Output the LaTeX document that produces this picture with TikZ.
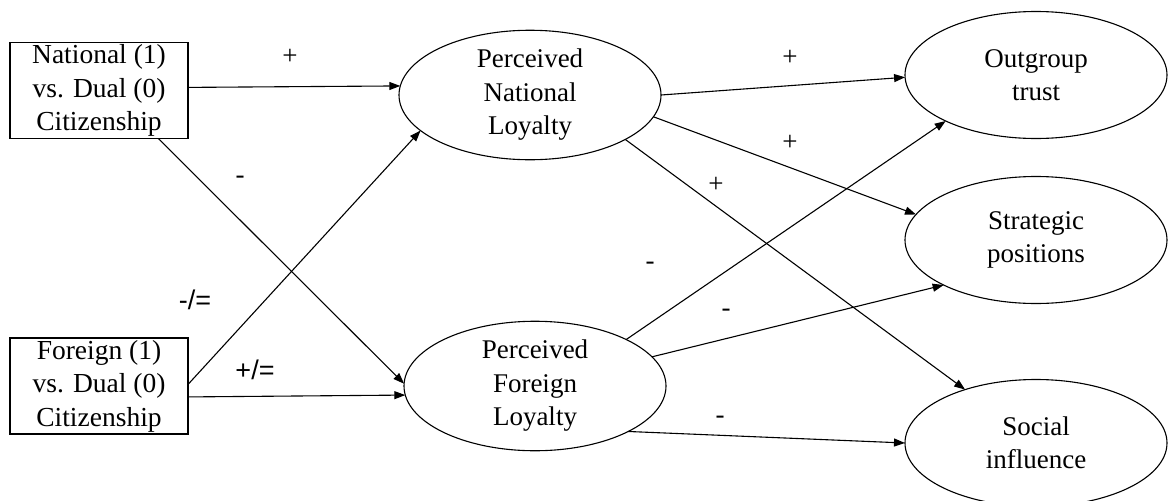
\documentclass[tikz,border=0pt]{standalone}
\usepackage{fontspec}
\setmainfont{Liberation Serif}
\newfontfamily\arialf{Liberation Sans}
\usetikzlibrary{arrows.meta,shapes.geometric}
\begin{document}
\begin{tikzpicture}[x=1pt,y=-1pt,
  every node/.style={outer sep=0pt},
  txt/.style={font=\fontsize{27.5}{33.5}\selectfont, align=center},
  boxnode/.style={txt, draw, line width=1.1pt, rectangle, inner sep=0pt,
    minimum width=178pt, minimum height=96pt},
  latent/.style={txt, draw, line width=1.1pt, ellipse, inner sep=0pt,
    minimum width=262pt, minimum height=127pt, font=\fontsize{27}{33.5}\selectfont},
  conn/.style={line width=1.1pt, -{Triangle[length=11pt,width=8pt]}},
  sign/.style={font=\fontsize{27}{30}\selectfont, inner sep=0pt},
  sanssign/.style={font=\arialf\fontsize{27}{30}\selectfont, inner sep=0pt}
]
\useasboundingbox (0,0) rectangle (1171,501);
\fill[white] (0,0) rectangle (1171,501);

\node[boxnode] (b1) at (99,90.5) {National (1)\\vs. Dual (0)\\Citizenship};
\node[boxnode] (b2) at (99,386) {Foreign (1)\\vs. Dual (0)\\Citizenship};

\node[latent] (pnl) at (530,95) {Perceived\\National\\Loyalty};
\node[latent] (pfl) at (535,386) {Perceived\\Foreign\\Loyalty};

\node[latent] (og) at (1036,75) {Outgroup\\trust};
\node[latent] (sp) at (1036,240) {Strategic\\positions};
\node[latent] (si) at (1036,443) {Social\\influence};

\draw[conn] (b1.2) -- (pnl.176);
\draw[conn] (b1.321) -- (pfl.179);
\draw[conn] (b2.1) -- (pnl.198);
\draw[conn] (b2.353) -- (pfl.184);

\draw[conn] (pnl.east) -- (og.181);
\draw[conn] (pnl.350) -- (sp.168);
\draw[conn] (pnl.335) -- (si.143);

\draw[conn] (pfl.27) -- (og.207);
\draw[conn] (pfl.14) -- (sp.206);
\draw[conn] (pfl.334) -- (si.west);

\node[sign] (l1) at (290,57) {+};
\node[sign] (l2) at (240,180) {-};
\node[sanssign] (l3) at (195,300) {-/=};
\node[sanssign] (l4) at (255,370) {+/=};
\node[sign] (l5) at (790,58) {+};
\node[sign] (l6) at (790,143) {+};
\node[sign] (l7) at (716,185) {+};
\node[sign] (l8) at (650,266) {-};
\node[sign] (l9) at (726,313) {-};
\node[sign] (l10) at (720,420) {-};
\end{tikzpicture}
\end{document}
